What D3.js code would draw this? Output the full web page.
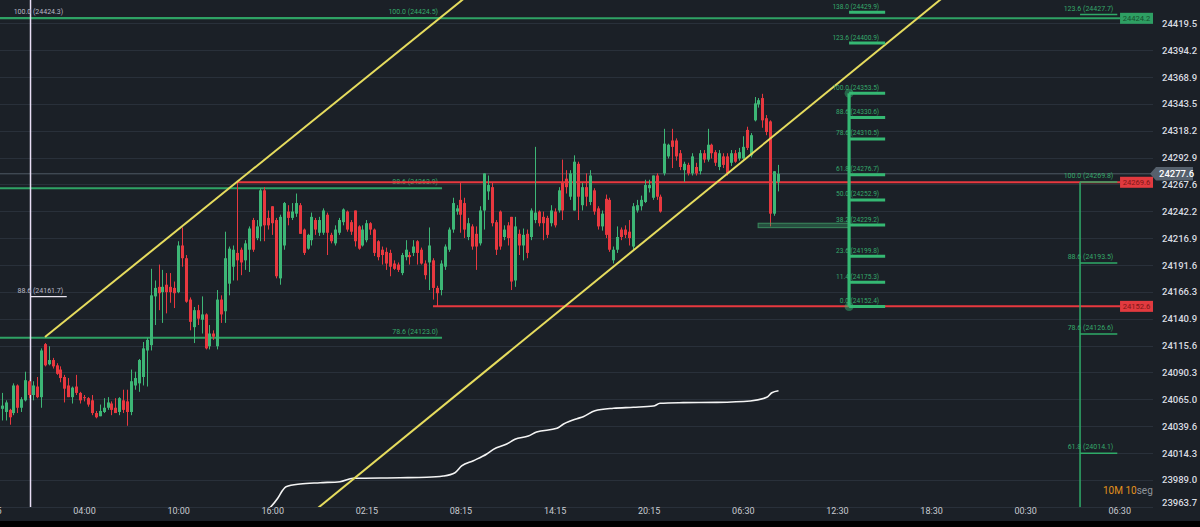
<!DOCTYPE html>
<html><head><meta charset="utf-8">
<script src="https://cdn.jsdelivr.net/npm/d3@7"></script>
<style>
html,body{margin:0;padding:0;background:#000;}
svg{display:block;font-family:Roboto,"Noto Sans",sans-serif;}
</style></head>
<body>
<svg id="c" width="1200" height="527"></svg>
<script>
// ---------- DATA ----------
// candles: [open, high, low, close]
const candles = [
[24056,24071,24045,24059],[24053,24064,24045,24062],[24055,24056,24041,24048],[24052,24080,24050,24078],
[24078,24079,24052,24057],[24057,24067,24053,24065],[24064,24091,24063,24083],[24082,24083,24066,24069],
[24069,24082,24064,24078],[24077,24086,24066,24067],[24067,24113,24057,24111],[24117,24118,24096,24097],
[24098,24115,24097,24102],[24102,24104,24094,24096],[24097,24099,24088,24089],[24093,24096,24081,24085],
[24086,24088,24062,24075],[24078,24085,24067,24067],[24067,24077,24061,24076],[24077,24088,24069,24071],
[24071,24072,24061,24064],[24067,24069,24063,24066],[24066,24067,24058,24060],[24064,24069,24050,24052],
[24052,24054,24047,24048],[24049,24060,24049,24054],[24053,24066,24052,24057],[24057,24067,24055,24062],
[24061,24063,24050,24055],[24057,24066,24052,24052],[24053,24067,24050,24066],[24064,24074,24052,24055],
[24063,24074,24040,24053],[24053,24093,24050,24082],[24078,24091,24074,24085],[24080,24103,24072,24102],
[24086,24119,24078,24113],[24111,24123,24077,24121],[24116,24188,24111,24163],[24162,24177,24135,24170],
[24171,24192,24149,24165],[24166,24187,24137,24171],[24173,24184,24146,24166],[24171,24184,24156,24166],
[24170,24176,24151,24165],[24166,24214,24165,24210],[24210,24227,24190,24198],[24198,24201,24156,24157],
[24159,24161,24130,24138],[24133,24152,24118,24149],[24149,24154,24135,24141],[24140,24162,24127,24145],
[24145,24146,24112,24113],[24115,24135,24112,24127],[24127,24130,24121,24124],[24115,24168,24112,24159],
[24159,24163,24137,24145],[24148,24223,24137,24198],[24174,24209,24163,24207],[24190,24210,24177,24206],
[24203,24270,24177,24196],[24206,24208,24182,24194],[24196,24215,24187,24212],[24206,24228,24185,24226],
[24234,24236,24204,24206],[24217,24234,24215,24228],[24228,24264,24214,24262],[24262,24265,24214,24229],
[24236,24243,24225,24229],[24247,24247,24220,24231],[24234,24236,24179,24181],[24179,24239,24173,24237],
[24210,24251,24206,24250],[24242,24248,24229,24236],[24236,24250,24234,24242],[24240,24259,24237,24250],
[24248,24250,24221,24221],[24225,24226,24201,24203],[24207,24221,24206,24220],[24215,24241,24210,24237],
[24234,24236,24220,24225],[24222,24237,24219,24234],[24222,24245,24220,24243],[24239,24241,24201,24222],
[24220,24222,24212,24214],[24212,24229,24210,24225],[24222,24236,24220,24234],[24232,24245,24229,24244],
[24242,24243,24223,24225],[24232,24234,24220,24223],[24243,24243,24209,24214],[24228,24229,24206,24207],
[24210,24229,24209,24225],[24215,24234,24213,24231],[24231,24232,24220,24225],[24225,24226,24200,24203],
[24214,24215,24196,24199],[24206,24209,24192,24201],[24204,24208,24187,24193],[24203,24206,24181,24190],
[24193,24196,24187,24188],[24192,24194,24185,24187],[24184,24203,24182,24201],[24199,24215,24196,24206],
[24201,24204,24192,24199],[24203,24215,24200,24209],[24214,24215,24192,24203],[24206,24208,24192,24193],
[24193,24196,24178,24182],[24194,24227,24168,24210],[24196,24198,24159,24170],[24170,24172,24152,24165],
[24168,24196,24163,24193],[24190,24211,24187,24209],[24206,24227,24204,24225],[24225,24255,24222,24250],
[24242,24248,24239,24245],[24253,24269,24222,24239],[24250,24255,24217,24225],[24218,24236,24215,24231],
[24228,24230,24206,24209],[24221,24228,24187,24209],[24212,24247,24210,24243],[24243,24278,24225,24278],
[24261,24276,24253,24267],[24265,24269,24228,24231],[24232,24234,24201,24206],[24242,24243,24206,24209],
[24218,24229,24215,24225],[24229,24232,24210,24217],[24237,24237,24168,24176],[24177,24237,24171,24228],
[24221,24225,24201,24210],[24210,24226,24196,24220],[24221,24225,24198,24203],[24218,24245,24215,24243],
[24234,24303,24231,24241],[24242,24243,24228,24231],[24237,24242,24215,24231],[24236,24238,24217,24220],
[24231,24248,24228,24243],[24242,24245,24227,24229],[24243,24265,24241,24262],[24269,24291,24234,24243],
[24273,24281,24259,24265],[24256,24281,24253,24278],[24243,24295,24243,24289],[24287,24289,24234,24256],
[24248,24269,24243,24265],[24265,24278,24247,24256],[24251,24281,24248,24276],[24262,24264,24239,24242],
[24245,24247,24225,24228],[24228,24243,24224,24240],[24254,24258,24217,24220],[24253,24255,24204,24206],
[24196,24209,24193,24206],[24206,24228,24203,24218],[24225,24227,24215,24218],[24225,24229,24217,24220],
[24223,24234,24210,24217],[24209,24250,24206,24247],[24243,24253,24241,24248],[24247,24257,24243,24253],
[24251,24272,24250,24267],[24264,24272,24260,24267],[24255,24276,24253,24276],[24276,24278,24253,24256],
[24256,24258,24241,24242],[24278,24320,24276,24306],[24294,24306,24292,24305],[24309,24320,24283,24303],
[24309,24311,24290,24294],[24297,24300,24281,24284],[24281,24289,24270,24287],[24286,24288,24276,24278],
[24278,24297,24276,24294],[24284,24288,24276,24278],[24280,24300,24277,24297],[24297,24300,24288,24291],
[24291,24320,24289,24305],[24305,24306,24292,24297],[24298,24300,24285,24288],[24284,24300,24281,24297],
[24294,24297,24283,24286],[24294,24297,24276,24278],[24288,24300,24285,24297],[24297,24300,24288,24289],
[24292,24302,24290,24298],[24292,24313,24291,24303],[24319,24322,24300,24302],[24295,24316,24293,24314],
[24328,24350,24327,24344],[24343,24349,24340,24347],[24349,24353,24321,24328],[24330,24333,24314,24317],
[24327,24328,24228,24240],[24240,24280,24238,24280],[24270,24286,24261,24277.6]
];
const lastPrice = 24277.6;

// white indicator line: [candle index, price]
const whiteLine = [
[68.0,23961],[70.4,23971.6],[71.7,23979.4],[72.5,23982.5],[76.1,23985.1],[81.2,23986.3],[86.3,23987.3],
[89.6,23990.5],[101.6,23991.0],[108.4,23991.4],[112.6,23992.6],[115.6,23995.7],[117.3,24002.1],[120.3,24007.1],
[123.7,24013.4],[125.4,24017.8],[128.8,24022.8],[130.9,24027.2],[134.3,24030.3],[136.4,24034.1],[141.6,24037.6],
[143.3,24041.7],[146.7,24046.7],[148.3,24048.5],[151.3,24054.2],[156.0,24056.5],[161.1,24057.4],[166.2,24058.6],
[167.9,24061.2],[173.8,24061.8],[182.4,24062.1],[190.9,24063.4],[195.1,24066.8],[196.4,24071.2],[198.1,24073.1]
];

const priceTicks = [24419.5,24394.2,24368.9,24343.5,24318.2,24292.9,24267.6,24242.2,24216.9,24191.6,24166.3,
  24140.9,24115.6,24090.3,24065.0,24039.6,24014.3,23989.0,23963.7];
const timeTickIdx = [-3,21,45,69,93,117,141,165,189,213,237,261,285];
const timeLabels = ["22:15","04:00","10:00","16:00","02:15","08:15","14:15","20:15","06:30","12:30","18:30","00:30","06:30"];

// trend channel (yellow): two points each [index, price]
const channelA = [[11.05,24123.7],[130,24479.0]];
const channelB = [[70,23930.3],[245,24458.8]];

// left fib (green) levels
const leftFib = [["100.0",24424.5],["88.6",24263.9],["78.6",24123.0]];
const leftFibSpan = [-5,112.3];
// white (vertical) fib
const whiteFib = [["100.0",24424.3],["88.6",24161.7]];
const whiteFibIdx = 7.36, whiteFibEnd = 16.6;
// middle fib
const midFib = [["138.0",24429.9],["123.6",24400.9],["100.0",24353.5],["88.6",24330.6],["78.6",24310.5],
  ["61.8",24276.7],["50.0",24252.9],["38.2",24229.2],["23.6",24199.8],["11.4",24175.3],["0.0",24152.4]];
const midFibIdx = 216.1, midFibEnd = 225.3, midFibTop = 24353.5, midFibBottom = 24152.4;
const midBox = {i0:192.9, i1:216.1, p0:24231.0, p1:24226.8};
// right fib
const rightFib = [["123.6",24427.7],["100.0",24269.8],["88.6",24193.5],["78.6",24126.6],["61.8",24014.1]];
const rightFibIdx = 275.0, rightFibEnd = 284.5;
// horizontal levels with price tags
const greenLevel = {price:24424.2, start:-5};
const redLevels = [{price:24269.6, start:60.0},{price:24152.6, start:110.0}];
const tagStartIdx = 285.2;

// ---------- LAYOUT ----------
const W = 1200, H = 527, plotR = 1153, plotB = 507, bgB = 521;
const GREEN = "#3db676", RED = "#e8383f", FIBG = "#2fa265", YEL = "#e6dc5e";

const svg = d3.select("#c");
svg.append("rect").attr("width",W).attr("height",H).attr("fill","#000");
svg.append("rect").attr("width",W).attr("height",bgB).attr("fill","#1b2027");

const x = d3.scaleLinear().domain([0,198]).range([1.66, 778.1]);
const y = d3.scaleLinear().domain([23963.7,24419.5]).range([506.7,23.3]);

svg.append("clipPath").attr("id","clip").append("rect").attr("width",plotR).attr("height",plotB);

// grid
const grid = svg.append("g").attr("transform",`translate(${plotR},0)`)
  .call(d3.axisLeft(y).tickValues(priceTicks).tickSize(plotR).tickFormat(""));
grid.select(".domain").remove();
grid.selectAll("line").attr("stroke","#29303a").attr("stroke-width",1).attr("shape-rendering","crispEdges");

// y axis labels
const yAx = svg.append("g").attr("transform",`translate(${plotR+6},0)`)
  .call(d3.axisRight(y).tickValues(priceTicks).tickSize(0).tickFormat(d=>d.toFixed(1)));
yAx.select(".domain").remove();
yAx.selectAll("text").attr("fill","#d8dbe0").attr("font-size","9.5px").attr("font-weight","500")
  .attr("font-family","Roboto, sans-serif")
  .attr("transform",d=> y(d)>502 ? `translate(0,${502-y(d)})` : null);

// x axis labels
const xAx = svg.append("g").attr("transform",`translate(0,${plotB})`)
  .call(d3.axisBottom(x).tickValues(timeTickIdx).tickSize(0).tickPadding(1).tickFormat((d,i)=>timeLabels[i]));
xAx.select(".domain").remove();
xAx.selectAll("text").attr("fill","#c8cbd1").attr("font-size","9px").attr("font-family","Roboto, sans-serif");

const plot = svg.append("g").attr("clip-path","url(#clip)");
const line2 = d3.line().x(d=>x(d[0])).y(d=>y(d[1]));

// current price line
plot.append("line").attr("x1",0).attr("x2",plotR).attr("y1",y(lastPrice)).attr("y2",y(lastPrice))
  .attr("stroke","#4e5863").attr("stroke-width",1);

// left fib lines
leftFib.forEach(([r,p])=>{
  plot.append("line").attr("x1",x(leftFibSpan[0])).attr("x2",x(leftFibSpan[1]))
    .attr("y1",y(p)).attr("y2",y(p)).attr("stroke",FIBG).attr("stroke-width",2);
  plot.append("text").attr("x",x(leftFibSpan[1])-4).attr("y",y(p)-4).attr("text-anchor","end")
    .attr("font-size","7px").attr("fill","#35a86a").text(`${r} (${p.toFixed(1)})`);
});

// top green level
plot.append("line").attr("x1",x(greenLevel.start)).attr("x2",x(tagStartIdx))
  .attr("y1",y(greenLevel.price)).attr("y2",y(greenLevel.price)).attr("stroke",FIBG).attr("stroke-width",2);

// red levels
redLevels.forEach(l=>{
  plot.append("line").attr("x1",x(l.start)).attr("x2",x(tagStartIdx))
    .attr("y1",y(l.price)).attr("y2",y(l.price)).attr("stroke",RED).attr("stroke-width",2);
});

// white vertical fib
plot.append("line").attr("x1",x(whiteFibIdx)).attr("x2",x(whiteFibIdx)).attr("y1",0).attr("y2",plotB)
  .attr("stroke","#e9def5").attr("stroke-width",1.5);
whiteFib.forEach(([r,p],k)=>{
  if(k>0) plot.append("line").attr("x1",x(whiteFibIdx)).attr("x2",x(whiteFibEnd)).attr("y1",y(p)).attr("y2",y(p))
    .attr("stroke","#e9e4ef").attr("stroke-width",1.2);
  plot.append("text").attr("x",x(whiteFibEnd)-3.5).attr("y",y(p)-4).attr("text-anchor","end")
    .attr("font-size","7px").attr("fill","#b9b8c6").text(`${r} (${p.toFixed(1)})`);
});

// candles
const cg = plot.append("g");
cg.selectAll("line").data(candles).join("line")
  .attr("x1",(d,i)=>Math.round(x(i))+0.5).attr("x2",(d,i)=>Math.round(x(i))+0.5)
  .attr("y1",d=>y(d[1])).attr("y2",d=>y(d[2]))
  .attr("stroke",d=>d[3]>=d[0]?GREEN:RED).attr("stroke-width",1);
cg.selectAll("rect").data(candles).join("rect")
  .attr("x",(d,i)=>Math.round(x(i))-1).attr("width",3)
  .attr("y",d=>y(Math.max(d[0],d[3])))
  .attr("height",d=>Math.max(1,Math.abs(y(d[0])-y(d[3]))))
  .attr("fill",d=>d[3]>=d[0]?GREEN:RED);

// white indicator
plot.append("path").datum(whiteLine).attr("d",d3.line().x(d=>x(d[0])).y(d=>y(d[1])).curve(d3.curveMonotoneX))
  .attr("fill","none").attr("stroke","#f4f4f4").attr("stroke-width",1.6);

// channel
[channelA,channelB].forEach(c=>{
  plot.append("path").datum(c).attr("d",line2).attr("stroke",YEL).attr("stroke-width",2).attr("fill","none");
});

// middle fib
plot.append("rect").attr("x",x(midBox.i0)).attr("width",x(midBox.i1)-x(midBox.i0))
  .attr("y",y(midBox.p0)).attr("height",y(midBox.p1)-y(midBox.p0))
  .attr("fill","rgba(60,170,110,0.35)").attr("stroke","rgba(70,170,110,0.7)").attr("stroke-width",1);
midFib.forEach(([r,p])=>{
  plot.append("text").attr("x",x(midFibEnd)-6).attr("y",y(p)-3.5).attr("text-anchor","end")
    .attr("font-size","6.6px").attr("fill","#35a86a").text(`${r} (${p.toFixed(1)})`);
});
plot.append("line").attr("x1",x(midFibIdx)).attr("x2",x(midFibIdx)).attr("y1",y(midFibTop)).attr("y2",y(midFibBottom))
  .attr("stroke","#35b873").attr("stroke-width",3.2);
midFib.forEach(([r,p])=>{
  plot.append("line").attr("x1",x(midFibIdx)).attr("x2",x(midFibEnd)).attr("y1",y(p)).attr("y2",y(p))
    .attr("stroke","#35b873").attr("stroke-width",3);
});
[midFibTop,midFibBottom].forEach(p=>{
  plot.append("circle").attr("cx",x(midFibIdx)).attr("cy",y(p)).attr("r",4.5).attr("fill","rgba(53,184,115,0.45)");
});

// right fib
plot.append("line").attr("x1",x(rightFibIdx)).attr("x2",x(rightFibIdx)).attr("y1",y(rightFib[1][1])).attr("y2",plotB)
  .attr("stroke","#2faa68").attr("stroke-width",1.5);
rightFib.forEach(([r,p])=>{
  plot.append("line").attr("x1",x(rightFibIdx)).attr("x2",x(rightFibEnd)).attr("y1",y(p)).attr("y2",y(p))
    .attr("stroke","#2faa68").attr("stroke-width",1.5);
  plot.append("text").attr("x",x(rightFibEnd)-4).attr("y",y(p)-4).attr("text-anchor","end")
    .attr("font-size","7px").attr("fill","#35a86a").text(`${r} (${p.toFixed(1)})`);
});

// price tags
const tags = [{price:greenLevel.price, fill:"#2e9f63", text:"#17502f"}]
  .concat(redLevels.map(l=>({price:l.price, fill:"#e23a3f", text:"#7d1717"})));
tags.forEach(t=>{
  const x0 = x(tagStartIdx);
  svg.append("rect").attr("x",x0).attr("y",y(t.price)-5.5).attr("width",plotR-x0).attr("height",11).attr("fill",t.fill);
  svg.append("text").attr("x",(x0+plotR)/2).attr("y",y(t.price)).attr("dy","0.35em").attr("text-anchor","middle")
    .attr("font-size","7.6px").attr("fill",t.text).text(t.price.toFixed(1));
});

// current price tag on axis
const cy = y(lastPrice);
svg.append("path").attr("d",`M${plotR-3},${cy} L${plotR+3},${cy-6.7} L${plotR+40},${cy-6.7} L${plotR+40},${cy+6.7} L${plotR+3},${cy+6.7} Z`)
  .attr("fill","#56616d");
svg.append("text").attr("x",plotR+6).attr("y",cy).attr("dy","0.35em").attr("font-size","9.5px").attr("font-weight","500")
  .attr("fill","#ffffff").text(lastPrice.toFixed(1));

// interval label
const il = svg.append("text").attr("x",plotR-50).attr("y",494).attr("font-size","10px");
il.append("tspan").attr("fill","#e3911c").text("10M ");
il.append("tspan").attr("fill","#e3911c").text("10");
il.append("tspan").attr("fill","#8e949b").text("seg");
</script>
</body></html>
